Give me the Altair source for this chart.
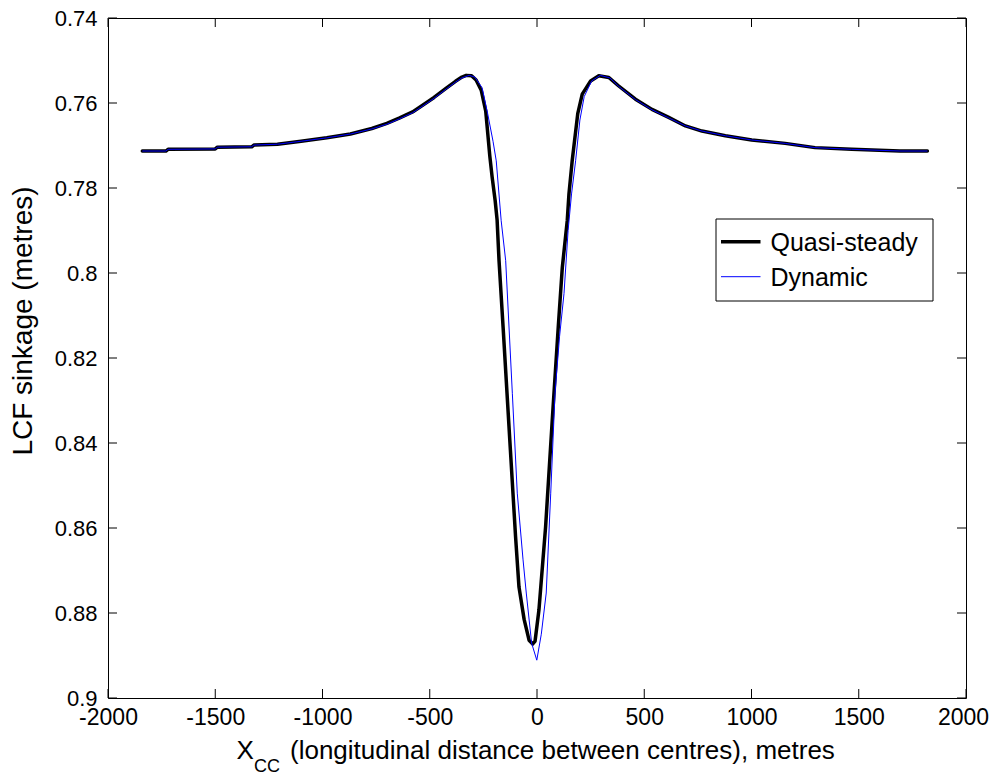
import altair as alt
import pandas as pd

# ---- data ----
qs_x = [-1840, -1730, -1720, -1500, -1490, -1330, -1320, -1210, -1100, -980,
        -870, -770, -700, -640, -580, -535, -480, -423, -380, -350,
        -330, -305, -284, -260, -239, -220, -209, -195, -186, -177,
        -158, -124, -100, -84, -60, -37, -20, -9, 9, 40,
        74, 100, 118, 141, 149, 164, 190, 211, 250, 288,
        335, 381, 459, 536, 614, 692, 769, 878, 1001, 1157,
        1296, 1467, 1692, 1820]
qs_y = [0.7713, 0.7713, 0.7709, 0.7708, 0.7704, 0.7703, 0.7699, 0.7697, 0.7690, 0.7682,
        0.7673, 0.7660, 0.7648, 0.7635, 0.7621, 0.7606, 0.7587, 0.7565, 0.7549, 0.7539,
        0.7535, 0.7536, 0.7546, 0.7570, 0.7619, 0.7725, 0.7775, 0.7830, 0.7875, 0.7971,
        0.8128, 0.8417, 0.8620, 0.8739, 0.8815, 0.8864, 0.8873, 0.8866, 0.8793, 0.8598,
        0.8323, 0.8120, 0.7987, 0.7877, 0.7814, 0.7736, 0.7625, 0.7579, 0.7548, 0.7536,
        0.7540, 0.7560, 0.7591, 0.7615, 0.7634, 0.7654, 0.7666, 0.7677, 0.7687, 0.7695,
        0.7705, 0.7709, 0.7713, 0.7713]

dyn_x = [-1840, -1730, -1720, -1500, -1490, -1330, -1320, -1210, -1100, -980,
         -870, -770, -700, -640, -580, -535, -480, -423, -380, -350,
         -316, -290, -256, -230, -205, -190, -167, -146, -115, -92,
         -65, -50, -25, -1, 20, 43, 64, 84, 105, 126,
         145, 161, 180, 200, 220, 255, 295, 340, 381, 459,
         536, 614, 692, 769, 878, 1001, 1157, 1296, 1467, 1692,
         1820]
dyn_y = [0.7713, 0.7713, 0.7709, 0.7708, 0.7704, 0.7703, 0.7699, 0.7697, 0.7690, 0.7682,
         0.7673, 0.7661, 0.7650, 0.7637, 0.7623, 0.7608, 0.7589, 0.7567, 0.7551, 0.7541,
         0.7535, 0.7539, 0.7564, 0.7625, 0.7690, 0.7736, 0.7877, 0.7971, 0.8283, 0.8518,
         0.8675, 0.8753, 0.8871, 0.8911, 0.8850, 0.8753, 0.8518, 0.8283, 0.8150, 0.8048,
         0.7900, 0.7814, 0.7736, 0.7640, 0.7585, 0.7548, 0.7535, 0.7541, 0.7561, 0.7592,
         0.7616, 0.7635, 0.7654, 0.7666, 0.7677, 0.7687, 0.7695, 0.7705, 0.7709, 0.7713,
         0.7713]

series_names = ["Quasi-steady", "Dynamic"]
series_colors = ["#000000", "#0000ff"]
series_widths = [3.5, 1.0]

x_ticks = [-2000, -1500, -1000, -500, 0, 500, 1000, 1500, 2000]
y_ticks = [0.74, 0.76, 0.78, 0.8, 0.82, 0.84, 0.86, 0.88, 0.9]

y_title = "LCF sinkage (metres)"
x_title_main = "X"
x_title_sub = "CC"
x_title_rest = "(longitudinal distance between centres), metres"

# ---- layout ----
W, H = 858, 680
FONT = "Liberation Sans"
TICK = 9

xscale = alt.Scale(domain=[-2000, 2000], nice=False, zero=False)
yscale = alt.Scale(domain=[0.74, 0.9], reverse=True, nice=False, zero=False)

x_axis = alt.Axis(values=x_ticks, labelExpr="'' + datum.value", labelFontSize=23,
                  labelFont=FONT, labelColor="black", ticks=False, domain=False,
                  grid=False, labelPadding=8, title=None, labelFlush=False,
                  labelOverlap=False,
                  labelOffset=alt.condition("datum.value == 2000", alt.value(-3), alt.value(0)))
y_axis = alt.Axis(values=y_ticks, labelExpr="'' + datum.value", labelFontSize=22,
                  labelFont=FONT, labelColor="black", ticks=False, domain=False,
                  grid=False, labelPadding=11, title=None, labelOverlap=False,
                  labelFlush=False)

qs_df = pd.DataFrame({"x": qs_x, "y": qs_y, "i": range(len(qs_x))})
dyn_df = pd.DataFrame({"x": dyn_x, "y": dyn_y, "i": range(len(dyn_x))})

qs_line = alt.Chart(qs_df).mark_line(
    color=series_colors[0], strokeWidth=series_widths[0], strokeJoin="round", strokeCap="round"
).encode(
    x=alt.X("x:Q", scale=xscale, axis=x_axis),
    y=alt.Y("y:Q", scale=yscale, axis=y_axis),
    order="i:Q",
)
dyn_line = alt.Chart(dyn_df).mark_line(
    color=series_colors[1], strokeWidth=series_widths[1]
).encode(
    x=alt.X("x:Q", scale=xscale, axis=x_axis),
    y=alt.Y("y:Q", scale=yscale, axis=y_axis),
    order="i:Q",
)

xt_df = pd.DataFrame({"x": x_ticks})
yt_df = pd.DataFrame({"y": y_ticks})
xt_bottom = alt.Chart(xt_df).mark_rule(color="black", strokeWidth=1).encode(
    x=alt.X("x:Q", scale=xscale, axis=x_axis), y=alt.value(H), y2=alt.value(H - TICK))
xt_top = alt.Chart(xt_df).mark_rule(color="black", strokeWidth=1).encode(
    x=alt.X("x:Q", scale=xscale, axis=x_axis), y=alt.value(0), y2=alt.value(TICK))
yt_left = alt.Chart(yt_df).mark_rule(color="black", strokeWidth=1).encode(
    y=alt.Y("y:Q", scale=yscale, axis=y_axis), x=alt.value(0), x2=alt.value(TICK))
yt_right = alt.Chart(yt_df).mark_rule(color="black", strokeWidth=1).encode(
    y=alt.Y("y:Q", scale=yscale, axis=y_axis), x=alt.value(W), x2=alt.value(W - TICK))

one = pd.DataFrame({"k": [0]})

# titles
ytitle = alt.Chart(pd.DataFrame({"t": [y_title]})).mark_text(
    font=FONT, fontSize=28, angle=270, align="center", baseline="middle", color="black"
).encode(text="t:N", x=alt.value(-84), y=alt.value(303))
xt_main = alt.Chart(pd.DataFrame({"t": [x_title_main]})).mark_text(
    font=FONT, fontSize=26, align="left", baseline="alphabetic", color="black"
).encode(text="t:N", x=alt.value(128.5), y=alt.value(740.5))
xt_sub = alt.Chart(pd.DataFrame({"t": [x_title_sub]})).mark_text(
    font=FONT, fontSize=18, align="left", baseline="alphabetic", color="black"
).encode(text="t:N", x=alt.value(146), y=alt.value(753.5))
xt_rest = alt.Chart(pd.DataFrame({"t": [x_title_rest]})).mark_text(
    font=FONT, fontSize=26, align="left", baseline="alphabetic", color="black"
).encode(text="t:N", x=alt.value(182), y=alt.value(740.5))

# legend (box, line samples, labels)
LX0, LX1, LY0, LY1 = 608, 825, 201, 283
legend_box = alt.Chart(one).mark_rect(fill="white", stroke="black", strokeWidth=1).encode(
    x=alt.value(LX0), x2=alt.value(LX1), y=alt.value(LY0), y2=alt.value(LY1))
row_y = [223.7, 258.7]
legend_layers = [legend_box]
for name, col, wd, ry in zip(series_names, series_colors, series_widths, row_y):
    legend_layers.append(
        alt.Chart(one).mark_rule(color=col, strokeWidth=wd).encode(
            x=alt.value(613), x2=alt.value(652.5), y=alt.value(ry)))
    legend_layers.append(
        alt.Chart(pd.DataFrame({"t": [name]})).mark_text(
            font=FONT, fontSize=25, align="left", baseline="middle", color="black"
        ).encode(text="t:N", x=alt.value(662.5), y=alt.value(ry + 1)))

chart = alt.layer(
    qs_line, dyn_line, xt_bottom, xt_top, yt_left, yt_right,
    ytitle, xt_main, xt_sub, xt_rest, *legend_layers
).properties(
    width=W, height=H,
    autosize=alt.AutoSizeParams(type="none"),
    padding={"left": 100, "top": 10, "right": 24, "bottom": 76},
    background="white",
).configure_view(
    stroke="black", strokeWidth=1
)

chart.save("out.html", embed_options={"renderer": "svg", "actions": False})
